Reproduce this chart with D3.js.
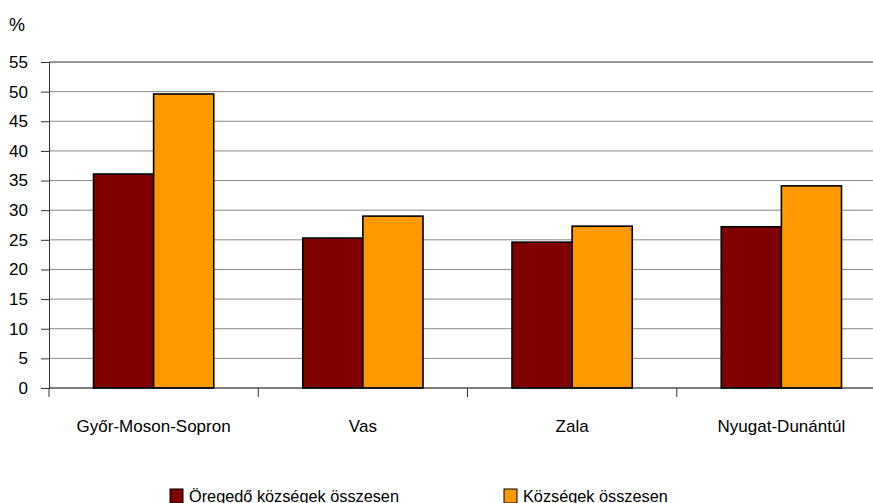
<!DOCTYPE html>
<html>
<head>
<meta charset="utf-8">
<script src="https://cdn.jsdelivr.net/npm/d3@7"></script>
<style>
  body { margin: 0; background: #fff; }
  svg { display: block; font-family: "Liberation Sans", Arial, sans-serif; }
</style>
</head>
<body>
<div id="chart"></div>
<script>
const categories = ["Győr-Moson-Sopron", "Vas", "Zala", "Nyugat-Dunántúl"];
const seriesNames = ["Öregedő községek összesen", "Községek összesen"];
const agingValues = [36.1, 25.3, 24.6, 27.2];
const allValues = [49.6, 29.0, 27.3, 34.1];
const yTicks = [0, 5, 10, 15, 20, 25, 30, 35, 40, 45, 50, 55];
const colors = ["#800000", "#FF9900"];

const width = 873, height = 503;
// plot runs past the right edge in the original, it is clipped there
const plotLeft = 49, plotRight = 886, plotTop = 62, plotBottom = 388;

const svg = d3.select("#chart").append("svg")
    .attr("width", width)
    .attr("height", height);

const x = d3.scaleBand()
    .domain(categories)
    .range([plotLeft, plotRight])
    .paddingInner(0)
    .paddingOuter(0);

const xInner = d3.scaleBand()
    .domain(seriesNames)
    .range([0, x.bandwidth()])
    .paddingInner(0)
    .paddingOuter(0.74);

const y = d3.scaleLinear()
    .domain([0, 55])
    .range([plotBottom, plotTop]);

// gridlines
svg.append("g")
    .selectAll("line")
    .data(yTicks.filter(d => d > 0))
    .join("line")
    .attr("x1", plotLeft)
    .attr("x2", width)
    .attr("y1", d => y(d))
    .attr("y2", d => y(d))
    .attr("stroke", d => d === 55 ? "#333" : "#888")
    .attr("stroke-width", 1);

// y axis
const yAxis = svg.append("g")
    .attr("transform", `translate(${plotLeft},0)`)
    .call(d3.axisLeft(y).tickValues(yTicks).tickSize(8).tickPadding(13));
yAxis.select(".domain").attr("stroke", "#333");
yAxis.selectAll(".tick line").attr("stroke", "#333");
yAxis.selectAll("text")
    .attr("font-size", 17)
    .attr("fill", "#000")
    .style("font-family", "Liberation Sans, Arial, sans-serif");

// bars
const rows = categories.map((c, i) => ({cat: c, vals: [agingValues[i], allValues[i]]}));

const groups = svg.append("g")
    .selectAll("g")
    .data(rows)
    .join("g")
    .attr("transform", d => `translate(${x(d.cat)},0)`);

groups.selectAll("rect")
    .data(d => d.vals.map((v, j) => ({name: seriesNames[j], v: v, j: j})))
    .join("rect")
    .attr("x", d => xInner(d.name))
    .attr("y", d => y(d.v))
    .attr("width", xInner.bandwidth())
    .attr("height", d => plotBottom - y(d.v))
    .attr("fill", d => colors[d.j])
    .attr("stroke", "#000")
    .attr("stroke-width", 1.6);

// x axis
const boundaries = d3.range(categories.length + 1).map(i => plotLeft + i * x.bandwidth());
svg.append("line")
    .attr("x1", plotLeft).attr("x2", width)
    .attr("y1", plotBottom).attr("y2", plotBottom)
    .attr("stroke", "#000").attr("stroke-width", 1.2);
svg.append("g")
    .selectAll("line")
    .data(boundaries)
    .join("line")
    .attr("x1", d => d).attr("x2", d => d)
    .attr("y1", plotBottom).attr("y2", plotBottom + 9)
    .attr("stroke", "#333");

svg.append("g")
    .selectAll("text")
    .data(categories)
    .join("text")
    .attr("x", d => x(d) + x.bandwidth() / 2)
    .attr("y", 432)
    .attr("text-anchor", "middle")
    .attr("font-size", 17)
    .text(d => d);

// unit label
svg.append("text")
    .attr("x", 9)
    .attr("y", 31)
    .attr("font-size", 18)
    .text("%");

// legend
const legendX = [170, 504];
const legend = svg.append("g")
    .selectAll("g")
    .data(seriesNames)
    .join("g")
    .attr("transform", (d, i) => `translate(${legendX[i]},489)`);
legend.append("rect")
    .attr("width", 13)
    .attr("height", 14)
    .attr("fill", (d, i) => colors[i])
    .attr("stroke", "#000")
    .attr("stroke-width", 1);
legend.append("text")
    .attr("x", 19)
    .attr("y", 12.5)
    .attr("font-size", 16.3)
    .text(d => d);
</script>
</body>
</html>
